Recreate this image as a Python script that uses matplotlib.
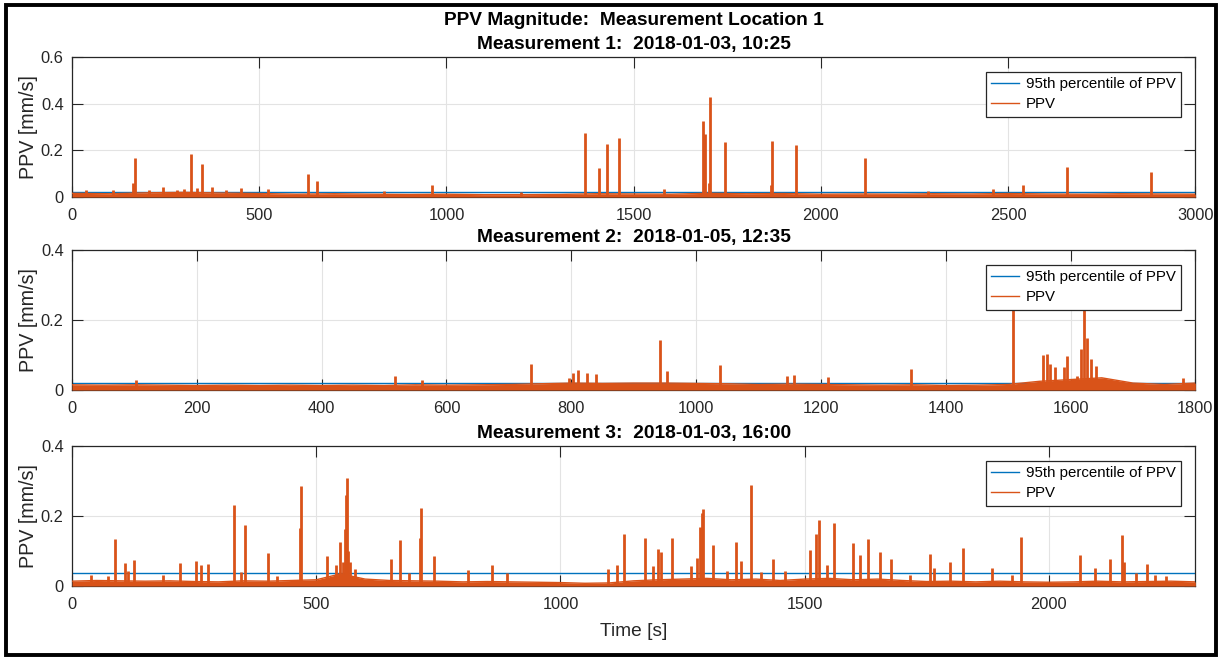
import numpy as np
import matplotlib.pyplot as plt
from matplotlib.lines import Line2D
from matplotlib.patches import Rectangle

plt.rcParams['font.family'] = ['Liberation Sans', 'DejaVu Sans']

blue = '#0072BD'
orange = '#D95319'

# ---- Measurement 1 ----
env1 = [0.016, 0.014, 0.018, 0.020, 0.017, 0.015, 0.012, 0.014, 0.012, 0.011, 0.012,
        0.010, 0.010, 0.011, 0.014, 0.013, 0.012, 0.016, 0.014, 0.015, 0.012, 0.013,
        0.012, 0.014, 0.013, 0.015, 0.013, 0.012, 0.014, 0.013, 0.012]
spk1_t = [38, 110, 164, 169, 206, 242, 280, 300, 317, 335, 346, 373, 410, 450, 524,
          631, 654, 833, 960, 1200, 1369, 1406, 1428, 1462, 1582, 1685, 1690, 1700,
          1704, 1745, 1870, 1866, 1934, 2117, 2286, 2459, 2539, 2657, 2882]
spk1_h = [0.028, 0.030, 0.060, 0.167, 0.030, 0.045, 0.030, 0.035, 0.184, 0.040, 0.140,
          0.045, 0.030, 0.040, 0.035, 0.100, 0.067, 0.026, 0.050, 0.022, 0.276, 0.126,
          0.229, 0.251, 0.033, 0.326, 0.270, 0.060, 0.431, 0.236, 0.239, 0.050, 0.221,
          0.166, 0.024, 0.036, 0.050, 0.127, 0.106]
p95_1 = 0.020

# ---- Measurement 2 ----
env2 = [0.015, 0.014, 0.015, 0.014, 0.013, 0.014, 0.013, 0.014, 0.013, 0.014, 0.013,
        0.015, 0.014, 0.015, 0.016, 0.018, 0.020, 0.019, 0.020, 0.020, 0.019, 0.018,
        0.016, 0.017, 0.016, 0.015, 0.014, 0.015, 0.013, 0.014, 0.016, 0.025, 0.030,
        0.035, 0.020, 0.016, 0.020]
spk2_t = [103, 517, 561, 735, 797, 803, 810, 825, 840, 942, 953, 1038, 1145, 1157, 1212,
          1344, 1508, 1556, 1563, 1567, 1575, 1590, 1595, 1610, 1617, 1621, 1626, 1632,
          1640, 1780]
spk2_h = [0.030, 0.040, 0.028, 0.075, 0.035, 0.050, 0.058, 0.050, 0.047, 0.144, 0.054,
          0.072, 0.040, 0.042, 0.037, 0.061, 0.237, 0.099, 0.104, 0.075, 0.066, 0.066,
          0.097, 0.040, 0.118, 0.234, 0.150, 0.090, 0.070, 0.035]
p95_2 = 0.020

# ---- Measurement 3 ----
env3 = [0.014, 0.016, 0.015, 0.014, 0.015, 0.013, 0.012, 0.015, 0.014, 0.016, 0.018,
        0.035, 0.020, 0.016, 0.015, 0.014, 0.012, 0.013, 0.012, 0.011, 0.010, 0.008,
        0.009, 0.015, 0.018, 0.020, 0.022, 0.018, 0.020, 0.016, 0.020, 0.022, 0.018,
        0.020, 0.016, 0.013, 0.014, 0.012, 0.014, 0.012, 0.011, 0.012, 0.014, 0.012,
        0.013, 0.014, 0.012]
spk3_t = [39, 74, 88, 108, 115, 127, 187, 222, 254, 264, 278, 331, 345, 355, 401, 420,
          467, 469, 522, 540, 549, 555, 558, 561, 563, 566, 570, 580, 653, 671, 690,
          712, 714, 742, 810, 860, 891, 1098, 1115, 1130, 1174, 1190, 1199, 1205, 1229,
          1267, 1279, 1286, 1290, 1292, 1312, 1342, 1359, 1370, 1390, 1410, 1435, 1460,
          1511, 1524, 1530, 1545, 1560, 1600, 1613, 1630, 1655, 1677, 1715, 1757, 1765,
          1798, 1824, 1883, 1925, 1943, 2063, 2095, 2125, 2150, 2153, 2179, 2202, 2218,
          2240]
spk3_h = [0.033, 0.030, 0.136, 0.066, 0.043, 0.074, 0.033, 0.066, 0.073, 0.059, 0.062,
          0.231, 0.040, 0.174, 0.095, 0.028, 0.166, 0.285, 0.087, 0.060, 0.127, 0.070,
          0.163, 0.261, 0.308, 0.100, 0.070, 0.050, 0.076, 0.133, 0.038, 0.137, 0.222,
          0.085, 0.047, 0.059, 0.038, 0.049, 0.059, 0.150, 0.137, 0.057, 0.107, 0.097,
          0.137, 0.057, 0.080, 0.170, 0.208, 0.221, 0.118, 0.043, 0.126, 0.071, 0.290,
          0.040, 0.076, 0.043, 0.104, 0.149, 0.190, 0.059, 0.179, 0.123, 0.090, 0.135,
          0.097, 0.078, 0.033, 0.092, 0.052, 0.069, 0.108, 0.053, 0.033, 0.141, 0.090,
          0.052, 0.076, 0.147, 0.068, 0.038, 0.064, 0.033, 0.028]
p95_3 = 0.036

panels = [
    (env1, spk1_t, spk1_h, p95_1, 3000, 0.6, [0, 0.2, 0.4, 0.6],
     'PPV Magnitude:  Measurement Location 1\nMeasurement 1:  2018-01-03, 10:25', 0.7015),
    (env2, spk2_t, spk2_h, p95_2, 1800, 0.4, [0, 0.2, 0.4],
     'Measurement 2:  2018-01-05, 12:35', 0.409),
    (env3, spk3_t, spk3_h, p95_3, 2300, 0.4, [0, 0.2, 0.4],
     'Measurement 3:  2018-01-03, 16:00', 0.112),
]

fig = plt.figure(figsize=(12.21, 6.6), dpi=100)

for env, st, sh, p95, tmax, ymax, yt, title, bottom in panels:
    ax = fig.add_axes([0.059, bottom, 0.920, 0.212])
    t_env = np.linspace(0, tmax, len(env))
    ax.axhline(p95, color=blue, lw=1.0, zorder=2)
    ax.fill_between(t_env, 0, env, color=orange, lw=0, zorder=3)
    ax.plot(t_env, env, color=orange, lw=1.0, zorder=3)
    ax.vlines(st, 0, sh, color=orange, lw=2.0, zorder=3)
    ax.set_xlim(0, tmax)
    ax.set_ylim(0, ymax)
    ax.set_yticks(yt)
    ax.set_yticklabels([('%g' % v) for v in yt])
    ax.grid(True, color='#e3e3e3', lw=0.8)
    ax.set_axisbelow(True)
    ax.tick_params(direction='in', length=8, width=0.8, top=True, right=True,
                   labelsize=11.8, colors='#262626')
    ax.tick_params(axis='y', pad=6)
    ax.tick_params(axis='x', pad=8)
    for s in ax.spines.values():
        s.set_color('#262626')
        s.set_linewidth(0.9)
    ax.set_ylabel('PPV [mm/s]', fontsize=14.2, color='#262626', labelpad=2)
    ax.set_title(title, fontsize=13.8, fontweight='bold', pad=6, linespacing=1.5)
    handles = [Line2D([], [], color=blue, lw=1.0), Line2D([], [], color=orange, lw=1.0)]
    leg = ax.legend(handles, ['95th percentile of PPV', 'PPV'], loc='upper right',
                    bbox_to_anchor=(1 - 14 / 1123, 1 - 15 / 140), borderaxespad=0,
                    fontsize=10.8, fancybox=False, framealpha=1, edgecolor='#262626',
                    handlelength=1.9, handletextpad=0.45, labelspacing=0.4,
                    borderpad=0.35)
    leg.get_frame().set_linewidth(0.9)

ax.set_xlabel('Time [s]', fontsize=13.8, color='#262626', labelpad=8)

fig.add_artist(Rectangle((6 / 1221, 5 / 660), 1210 / 1221, 650 / 660,
                         transform=fig.transFigure, fill=False, ec='black', lw=2.8))

plt.savefig('out.png', dpi=100)
